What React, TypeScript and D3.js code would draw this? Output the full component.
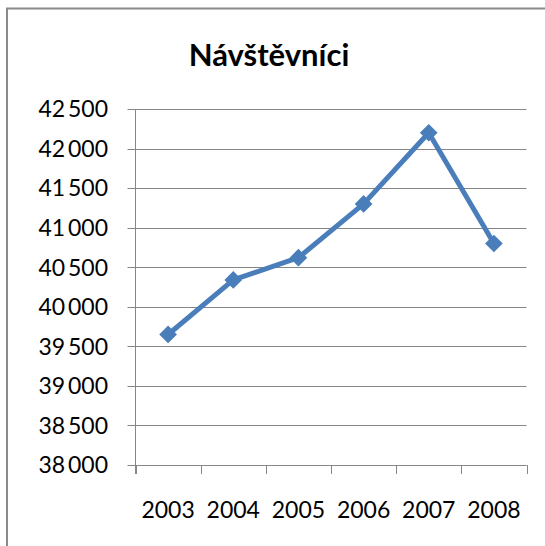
import React from "react";
import * as d3 from "d3";

const years = ["2003", "2004", "2005", "2006", "2007", "2008"];
const visitors = [39650, 40340, 40620, 41300, 42200, 40800];
const yTicks = [38000, 38500, 39000, 39500, 40000, 40500, 41000, 41500, 42000, 42500];
const title = "Návštěvníci";

const W = 545,
  H = 546;
const plot = { left: 135.5, right: 526.5, top: 109, bottom: 465 };
const grey = "#868686";
const blue = "#4a7ebb";
const font = "Lato, 'Open Sans', sans-serif";

const fmt = (v: number) => d3.format(",")(v).replace(",", "\u2009");

export default function App() {
  const x = d3.scaleBand().domain(years).range([plot.left, plot.right]);
  const y = d3
    .scaleLinear()
    .domain([d3.min(yTicks)!, d3.max(yTicks)!])
    .range([plot.bottom, plot.top]);

  const line = d3
    .line<number>()
    .x((_, i) => x(years[i])! + x.bandwidth() / 2)
    .y((d) => y(d));

  const diamond = d3.symbol(d3.symbolDiamond2, 200)();
  const edges = [...years.map((yr) => x(yr)!), plot.right];

  return (
    <svg
      width={W}
      height={H}
      style={{ position: "absolute", left: 0, top: 0, background: "#fff" }}
    >
      <rect x={7} y={8.5} width={700} height={700} fill="#fff" stroke="#8a8a8a" strokeWidth={2} />
      <text
        x={269}
        y={66}
        textAnchor="middle"
        fontFamily={font}
        fontWeight="bold"
        fontSize={31}
        fill="#000"
      >
        {title}
      </text>

      {yTicks.map((t) => (
        <g key={t}>
          <line
            x1={plot.left - 8}
            x2={plot.right}
            y1={Math.round(y(t)) + 0.5}
            y2={Math.round(y(t)) + 0.5}
            stroke={grey}
            strokeWidth={1}
          />
          <text
            x={108}
            y={y(t)}
            dy="0.36em"
            textAnchor="end"
            fontFamily={font}
            fontSize={23}
            fill="#000"
          >
            {fmt(t)}
          </text>
        </g>
      ))}

      <line x1={plot.left} x2={plot.left} y1={plot.top} y2={plot.bottom + 9} stroke={grey} />
      {edges.map((e, i) => (
        <line
          key={i}
          x1={Math.round(e) + 0.5}
          x2={Math.round(e) + 0.5}
          y1={plot.bottom}
          y2={plot.bottom + 9}
          stroke={grey}
        />
      ))}
      {years.map((yr) => (
        <text
          key={yr}
          x={x(yr)! + x.bandwidth() / 2}
          y={518}
          textAnchor="middle"
          fontFamily={font}
          fontSize={23}
          fill="#000"
        >
          {yr}
        </text>
      ))}

      <path
        d={line(visitors) || ""}
        fill="none"
        stroke={blue}
        strokeWidth={5}
        strokeLinejoin="round"
      />
      {visitors.map((v, i) => (
        <path
          key={i}
          d={diamond || ""}
          transform={`translate(${x(years[i])! + x.bandwidth() / 2},${y(v)})`}
          fill={blue}
        />
      ))}
    </svg>
  );
}
